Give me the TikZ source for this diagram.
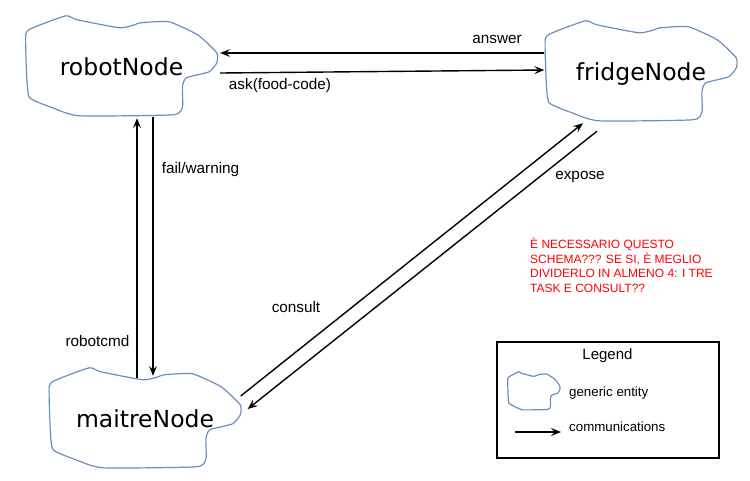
\documentclass[tikz,border=0pt]{standalone}
\usepackage{fontspec}
\setmainfont{Liberation Sans}
\newfontfamily\dejavu{DejaVu Sans}
\usetikzlibrary{arrows.meta,calc}
\definecolor{blobblue}{RGB}{108,142,191}
\definecolor{notered}{RGB}{255,0,0}
\tikzset{
  blobline/.style={draw=blobblue,line width=1.2pt,line join=round},
  entity/.style={minimum width=191pt,minimum height=100pt,inner sep=0pt,
    font=\dejavu\fontsize{23.5}{27}\selectfont,text height=20pt,text depth=2pt},
  lbl/.style={font=\fontsize{15.3}{18}\selectfont,inner sep=0pt},
  arr/.style={line width=1.4pt,-{Stealth[length=10pt,width=8pt,inset=4pt]}},
  legendbox/.style={draw,line width=1.4pt},
  legtext/.style={font=\fontsize{13.3}{15}\selectfont,anchor=west,inner sep=0pt},
}
\newcommand\drawblob[3]{%
  \begin{scope}[shift={(#1.north west)},x=#2pt,y=-#3pt]
    \draw[blobline] plot[smooth cycle,tension=0.3] coordinates {
      (0,0.18) (0.05,0.11) (0.21,0) (0.27,0.04) (0.49,0.12) (0.57,0.09)
      (0.60,0.07) (0.75,0.06) (0.90,0.19) (1,0.37) (1,0.47) (0.96,0.56)
      (0.84,0.62) (0.82,0.71) (0.82,0.91) (0.77,0.99) (0.28,1) (0.14,0.92)
      (0.02,0.82) (0.005,0.61)};
  \end{scope}}
\begin{document}
\begin{tikzpicture}[x=1pt,y=-1pt]
\useasboundingbox (0,0) rectangle (750,480);
% entities
\node[entity] (robot) at (121.5,66) {robotNode};
\node[entity] (fridge) at (641,71) {fridgeNode};
\node[entity] (maitre) at (145,418) {maitreNode};
\drawblob{robot}{191}{100}
\drawblob{fridge}{191}{100}
\drawblob{maitre}{191}{100}
% connectors
\draw[arr] ([shift={(-1,-18)}]fridge.west) -- ([shift={(3,-13)}]robot.east);
\draw[arr] ([shift={(3,7)}]robot.east) -- ([shift={(-1,-1)}]fridge.west);
\draw[arr] ([shift={(-8,10)}]maitre.north) -- ([shift={(15.5,2)}]robot.south);
\draw[arr] ([shift={(31.5,1)}]robot.south) -- ([shift={(8,8)}]maitre.north);
\draw[arr] ([shift={(0,-22)}]maitre.east) -- ([shift={(-58,2)}]fridge.south);
\draw[arr] ([shift={(-44,10)}]fridge.south) -- ([shift={(7,-9)}]maitre.east);
% labels
\node[lbl] (lanswer) at (497,39) {answer};
\node[lbl] (lask) at (280,86) {ask(food-code)};
\node[lbl] (lfail) at (200.5,170) {fail/warning};
\node[lbl] (lcmd) at (97.5,341) {robotcmd};
\node[lbl] (lconsult) at (296,307) {consult};
\node[lbl] (lexpose) at (580,177) {expose};
% note
\node[font=\fontsize{12}{14.5}\selectfont,text=notered,align=left,anchor=north west,inner sep=0pt] (note) at (530,238)
  {È NECESSARIO QUESTO\\SCHEMA??? SE SI, È MEGLIO\\DIVIDERLO IN ALMENO 4: I TRE\\TASK E CONSULT??};
% legend
\node[legendbox,minimum width=222pt,minimum height=116pt,inner sep=0pt] (legend) at (608,400) {};
\node[font=\fontsize{15}{17}\selectfont,inner sep=0pt] (legtitle) at (607.5,356) {Legend};
\node[minimum width=52pt,minimum height=38pt,inner sep=0pt] (legblob) at (534,391) {};
\drawblob{legblob}{52}{38}
\node[legtext] (legent) at (569,393) {generic entity};
\coordinate (legA) at (515,432);
\coordinate (legB) at (561,432);
\draw[arr] (legA) -- (legB);
\node[legtext] (legcomm) at (569,427) {communications};
\end{tikzpicture}
\end{document}
